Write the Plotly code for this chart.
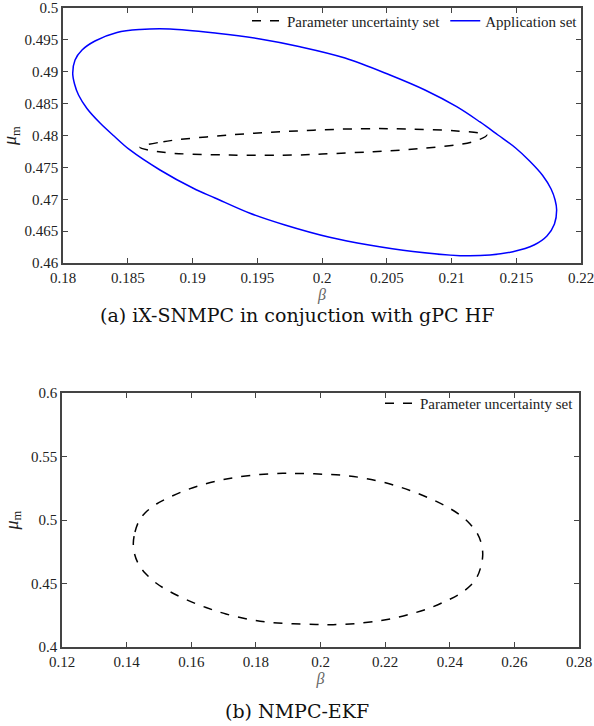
import plotly.graph_objects as go

# ---- Data ----
# (a) Application set (blue, solid)
app_beta = [0.18075, 0.18093, 0.18147, 0.18247, 0.18417, 0.18595, 0.18826, 0.19189,
            0.19521, 0.19830, 0.20178, 0.20525, 0.20795, 0.21040, 0.21220, 0.21359,
            0.21495, 0.21603, 0.21704, 0.21769, 0.21800, 0.21812, 0.21795, 0.21737,
            0.21637, 0.21474, 0.21297, 0.21066, 0.20702, 0.20363, 0.20059, 0.19714,
            0.19444, 0.19174, 0.19006, 0.18749, 0.18517, 0.18394, 0.18286, 0.18185,
            0.18120, 0.18089, 0.18075]
app_mu = [0.48976, 0.49184, 0.49341, 0.49482, 0.49616, 0.49663, 0.49671, 0.49603,
          0.49514, 0.49393, 0.49216, 0.48949, 0.48714, 0.48452, 0.48212, 0.48008,
          0.47804, 0.47600, 0.47373, 0.47161, 0.46988, 0.46831, 0.46612, 0.46424,
          0.46282, 0.46177, 0.46125, 0.46115, 0.46180, 0.46282, 0.46403, 0.46596,
          0.46780, 0.47020, 0.47172, 0.47459, 0.47773, 0.47992, 0.48196, 0.48424,
          0.48635, 0.48808, 0.48976]

# (a) Parameter uncertainty set (black, dashed)
pu_a_beta = [0.18595, 0.18775, 0.19290, 0.19805, 0.20293, 0.20654, 0.21040, 0.21272,
             0.21168, 0.20782, 0.20396, 0.20000, 0.19805, 0.19290, 0.18775, 0.18595]
pu_a_mu = [0.47815, 0.47903, 0.48008, 0.48071, 0.48106, 0.48102, 0.48071, 0.48008,
           0.47903, 0.47799, 0.47746, 0.47710, 0.47694, 0.47694, 0.47736, 0.47815]

# (b) Parameter uncertainty set (black, dashed)
pu_b_beta = [0.14207, 0.14259, 0.14383, 0.14569, 0.14925, 0.15343, 0.15807, 0.16271,
             0.16797, 0.17354, 0.18128, 0.18840, 0.19366, 0.20078, 0.20759, 0.21409,
             0.22152, 0.22771, 0.23390, 0.23907, 0.24318, 0.24628, 0.24844, 0.24977,
             0.25021, 0.24968, 0.24844, 0.24659, 0.24303, 0.23885, 0.23421, 0.22956,
             0.22430, 0.21873, 0.21099, 0.20388, 0.19861, 0.19150, 0.18469, 0.17819,
             0.17076, 0.16457, 0.15838, 0.15321, 0.14909, 0.14600, 0.14383, 0.14250,
             0.14207]
pu_b_mu = [0.48165, 0.49055, 0.49921, 0.50551, 0.51260, 0.51811, 0.52323, 0.52717,
           0.53071, 0.53346, 0.53583, 0.53677, 0.53661, 0.53606, 0.53504, 0.53268,
           0.52835, 0.52323, 0.51693, 0.51047, 0.50394, 0.49685, 0.48976, 0.48150,
           0.47283, 0.46378, 0.45512, 0.44882, 0.44173, 0.43622, 0.43110, 0.42717,
           0.42362, 0.42087, 0.41850, 0.41756, 0.41772, 0.41827, 0.41929, 0.42165,
           0.42598, 0.43110, 0.43740, 0.44386, 0.45039, 0.45748, 0.46457, 0.47283,
           0.48165]

# Tick labels
xa_ticks = [0.18, 0.185, 0.19, 0.195, 0.2, 0.205, 0.21, 0.215, 0.22]
xa_text = ["0.18", "0.185", "0.19", "0.195", "0.2", "0.205", "0.21", "0.215", "0.22"]
ya_ticks = [0.46, 0.465, 0.47, 0.475, 0.48, 0.485, 0.49, 0.495, 0.5]
ya_text = ["0.46", "0.465", "0.47", "0.475", "0.48", "0.485", "0.49", "0.495", "0.5"]
xb_ticks = [0.12, 0.14, 0.16, 0.18, 0.2, 0.22, 0.24, 0.26, 0.28]
xb_text = ["0.12", "0.14", "0.16", "0.18", "0.2", "0.22", "0.24", "0.26", "0.28"]
yb_ticks = [0.4, 0.45, 0.5, 0.55, 0.6]
yb_text = ["0.4", "0.45", "0.5", "0.55", "0.6"]

caption_a = "(a) iX-SNMPC in conjuction with gPC HF"
caption_b = "(b) NMPC-EKF"

# ---- Figure ----
W, H = 594, 726
SERIF = "Liberation Serif, Times New Roman, serif"
TICKFONT = dict(family=SERIF, size=15, color="#222")
AXCOL = "#444"

fig = go.Figure()
fig.add_trace(go.Scatter(x=pu_a_beta, y=pu_a_mu, mode="lines", name="Parameter uncertainty set",
                         line=dict(color="black", width=1.5, dash="dash", shape="spline", smoothing=1.0),
                         xaxis="x", yaxis="y", legend="legend"))
fig.add_trace(go.Scatter(x=app_beta, y=app_mu, mode="lines", name="Application set",
                         line=dict(color="#0000ff", width=1.5, shape="spline", smoothing=1.0),
                         xaxis="x", yaxis="y", legend="legend"))
fig.add_trace(go.Scatter(x=pu_b_beta, y=pu_b_mu, mode="lines", name="Parameter uncertainty set",
                         line=dict(color="black", width=1.5, dash="dash", shape="spline", smoothing=1.0),
                         xaxis="x2", yaxis="y2", legend="legend2"))

def axis(domain, rng, tv, tt, anchor, title=None):
    d = dict(domain=domain, range=rng, tickvals=tv, ticktext=tt, anchor=anchor,
             automargin=False, showgrid=False, zeroline=False, showline=True, mirror="ticks",
             linecolor=AXCOL, linewidth=1.5, ticks="inside", ticklen=5,
             tickcolor=AXCOL, tickwidth=1.2, tickfont=TICKFONT,
             ticklabeloverflow="allow")
    if title:
        d["title"] = title
    return d

xtitle = dict(text="<i>β</i>", font=dict(family=SERIF, size=16, color="#666"), standoff=0)
ytitle = dict(text="<i>μ</i><sub>m</sub>", font=dict(family=SERIF, size=18, color="#222"), standoff=8)

CAPFONT = dict(family="DejaVu Serif", size=19, color="#111")

fig.update_layout(
    width=W, height=H,
    margin=dict(l=0, r=0, t=0, b=0),
    paper_bgcolor="white", plot_bgcolor="white",
    hovermode=False,
    xaxis=axis([63/W, 581/W], [0.18, 0.22], xa_ticks, xa_text, "y", xtitle),
    yaxis=axis([1-263/H, 1-8/H], [0.46, 0.5], ya_ticks, ya_text, "x", ytitle),
    xaxis2=axis([62/W, 579/W], [0.12, 0.28], xb_ticks, xb_text, "y2", xtitle),
    yaxis2=axis([1-647/H, 1-393/H], [0.4, 0.6], yb_ticks, yb_text, "x2", ytitle),
    legend=dict(orientation="h", x=583/W, y=1-4.5/H, xanchor="right", yanchor="top",
                bgcolor="rgba(0,0,0,0)", itemwidth=30,
                font=dict(family=SERIF, size=15, color="#222")),
    legend2=dict(orientation="h", x=579/W, y=1-387/H, xanchor="right", yanchor="top",
                 bgcolor="rgba(0,0,0,0)", itemwidth=30,
                 font=dict(family=SERIF, size=15, color="#222")),
    showlegend=True,
    annotations=[
        dict(text=caption_a, x=0.5, y=1-315/H, xref="paper", yref="paper",
             xanchor="center", yanchor="middle", showarrow=False, font=CAPFONT),
        dict(text=caption_b, x=0.5, y=1-711/H, xref="paper", yref="paper",
             xanchor="center", yanchor="middle", showarrow=False, font=CAPFONT),
    ],
)

# Remove the browser's default 8 px page margin so the figure sits at the window origin,
# and hide the mode bar.
fig.write_html("out.html", config={"displayModeBar": False},
               post_script="document.body.style.margin='0';")
